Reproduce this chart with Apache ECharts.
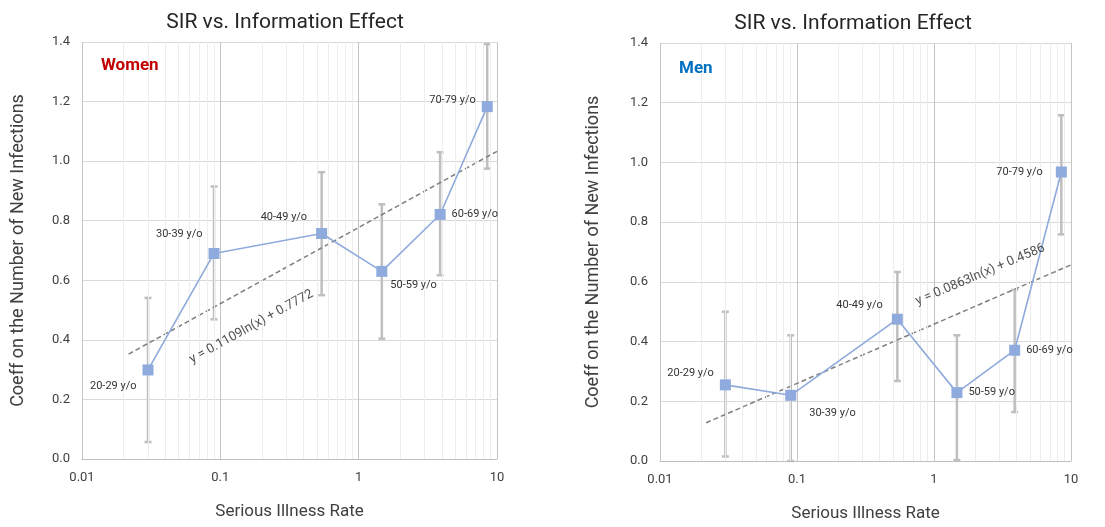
<!DOCTYPE html>
<html>
<head>
<meta charset="utf-8">
<script src="https://cdn.jsdelivr.net/npm/echarts@6/dist/echarts.min.js"></script>
<style>
  html, body { margin: 0; padding: 0; background: #fff; }
  #chart { width: 1105px; height: 527px; }
</style>
</head>
<body>
<div id="chart"></div>
<script>
// ---- Data ----
const ageLabels = ['20-29 y/o', '30-39 y/o', '40-49 y/o', '50-59 y/o', '60-69 y/o', '70-79 y/o'];
const sirX = [0.03, 0.09, 0.54, 1.47, 3.88, 8.5];

const womenCoef = [0.299, 0.690, 0.757, 0.630, 0.821, 1.183];
const womenLow  = [0.057, 0.469, 0.550, 0.404, 0.617, 0.975];
const womenHigh = [0.541, 0.915, 0.963, 0.855, 1.030, 1.393];

const menCoef = [0.255, 0.220, 0.475, 0.229, 0.371, 0.968];
const menLow  = [0.015, 0.000, 0.268, 0.003, 0.164, 0.759];
const menHigh = [0.500, 0.421, 0.633, 0.421, 0.573, 1.158];

// trendline endpoints (x, y) as drawn
const trendX = [0.0217, 10];
const womenTrendY = [0.352, 1.033];
const menTrendY = [0.128, 0.657];
const womenEq = 'y = 0.1109ln(x) + 0.7772';
const menEq = 'y = 0.0863ln(x) + 0.4586';

const minorX = [0.02,0.03,0.04,0.05,0.06,0.07,0.08,0.09,0.2,0.3,0.4,0.5,0.6,0.7,0.8,0.9,2,3,4,5,6,7,8,9];

// ---- Styling / layout ----
const FONT = 'Roboto, "Open Sans", sans-serif';
const TXT = '#404040';
const LINE = '#8FAADC';
const ERR = '#BFBFBF';

// label placements (position + offset) for each point
const womenLabelPos = [
  { position: 'left',  offset: [0, 16] },
  { position: 'left',  offset: [0, -19] },
  { position: 'left',  offset: [-3, -16] },
  { position: 'right', offset: [-3, 14] },
  { position: 'right', offset: [0, 0] },
  { position: 'left',  offset: [0, -6] }
];
const menLabelPos = [
  { position: 'left',  offset: [0, -12] },
  { position: 'right', offset: [7, 18] },
  { position: 'left',  offset: [-3, -14] },
  { position: 'right', offset: [0, 0] },
  { position: 'right', offset: [0, 0] },
  { position: 'left',  offset: [-7, 0] }
];

function fmtX(v) {
  if (v >= 1) return String(Math.round(v));
  return String(parseFloat(v.toPrecision(2)));
}

function makeAxes(i) {
  const xAxis = {
    type: 'log', logBase: 10, min: 0.01, max: 10, gridIndex: i,
    name: 'Serious Illness Rate', nameLocation: 'middle', nameGap: 44,
    nameTextStyle: { fontFamily: FONT, fontSize: 17, color: TXT },
    axisLine: { show: true, lineStyle: { color: '#BFBFBF', width: 1 } },
    axisTick: { show: false },
    axisLabel: { fontFamily: FONT, fontSize: 13, color: TXT, margin: 12, formatter: fmtX },
    splitLine: { show: true, lineStyle: { color: '#C4C4C4', width: 1 } },
    minorTick: { show: false }, minorSplitLine: { show: false }
  };
  const yAxis = {
    type: 'value', min: 0, max: 1.4, interval: 0.2, gridIndex: i,
    name: 'Coeff on the Number of New Infections', nameLocation: 'middle', nameGap: i === 0 ? 55 : 58,
    nameRotate: 90,
    nameTextStyle: { fontFamily: FONT, fontSize: 18, color: TXT },
    axisLine: { show: false }, axisTick: { show: false },
    axisLabel: { fontFamily: FONT, fontSize: 13, color: TXT, margin: 12, formatter: v => v.toFixed(1) },
    splitLine: { show: true, lineStyle: { color: '#D9D9D9', width: 1 } }
  };
  return { xAxis, yAxis };
}

function makeSeries(i, coef, low, high, trendY, labelPos, eq, eqPoint, eqRot) {
  const out = [];
  // minor vertical gridlines
  out.push({
    type: 'line', xAxisIndex: i, yAxisIndex: i, data: [], z: 1, silent: true,
    markLine: {
      silent: true, symbol: ['none', 'none'], animation: false,
      label: { show: false },
      lineStyle: { color: '#EDEDED', width: 1, type: 'solid' },
      data: minorX.map(v => ({ xAxis: v }))
    }
  });
  // error bars
  out.push({
    type: 'custom', xAxisIndex: i, yAxisIndex: i, z: 1, silent: true,
    data: sirX.map((x, k) => [x, low[k], high[k]]),
    encode: { x: 0, y: [1, 2] },
    renderItem: (params, api) => {
      const x = api.value(0);
      const pLo = api.coord([x, api.value(1)]);
      const pHi = api.coord([x, api.value(2)]);
      const cap = 3.5;
      const st = { stroke: ERR, lineWidth: 2.5 };
      return {
        type: 'group', children: [
          { type: 'line', shape: { x1: pLo[0], y1: pLo[1], x2: pHi[0], y2: pHi[1] }, style: st },
          { type: 'line', shape: { x1: pLo[0] - cap, y1: pLo[1], x2: pLo[0] + cap, y2: pLo[1] }, style: st },
          { type: 'line', shape: { x1: pHi[0] - cap, y1: pHi[1], x2: pHi[0] + cap, y2: pHi[1] }, style: st }
        ]
      };
    }
  });
  // trendline
  out.push({
    type: 'line', xAxisIndex: i, yAxisIndex: i, z: 3, silent: true,
    data: trendX.map((x, k) => [x, trendY[k]]),
    symbol: 'none',
    lineStyle: { color: '#7F7F7F', width: 1.5, type: [5, 3] }
  });
  // main series
  out.push({
    type: 'line', xAxisIndex: i, yAxisIndex: i, z: 10,
    data: sirX.map((x, k) => ({
      value: [x, coef[k]],
      label: {
        show: true, formatter: ageLabels[k],
        position: labelPos[k].position, offset: labelPos[k].offset, distance: 6
      }
    })),
    symbol: 'rect', symbolSize: 11, showAllSymbol: true,
    itemStyle: { color: LINE, opacity: 1 },
    lineStyle: { color: LINE, width: 1.6 },
    label: { fontFamily: FONT, fontSize: 11, color: '#333333' }
  });
  // trendline equation text
  out.push({
    type: 'scatter', xAxisIndex: i, yAxisIndex: i, z: 11, silent: true,
    data: [eqPoint], symbolSize: 0,
    label: {
      show: true, position: 'inside', formatter: eq, rotate: eqRot,
      fontFamily: FONT, fontSize: 13, color: '#262626'
    }
  });
  return out;
}

const a0 = makeAxes(0), a1 = makeAxes(1);

const option = {
  backgroundColor: '#ffffff',
  animation: false,
  title: [
    { text: 'SIR vs. Information Effect', left: 280, top: 7, textAlign: 'center',
      textStyle: { fontFamily: FONT, fontSize: 21, fontWeight: 'normal', color: '#262626' } },
    { text: 'SIR vs. Information Effect', left: 848, top: 8, textAlign: 'center',
      textStyle: { fontFamily: FONT, fontSize: 21, fontWeight: 'normal', color: '#262626' } },
    { text: 'Women', left: 96, top: 52,
      textStyle: { fontFamily: FONT, fontSize: 17, fontWeight: 'bold', color: '#C00000' } },
    { text: 'Men', left: 674, top: 55,
      textStyle: { fontFamily: FONT, fontSize: 17, fontWeight: 'bold', color: '#0070C0' } }
  ],
  grid: [
    { left: 82, top: 42, width: 415, height: 417 },
    { left: 660, top: 43, width: 411, height: 418 }
  ],
  xAxis: [a0.xAxis, a1.xAxis],
  yAxis: [a0.yAxis, a1.yAxis],
  series: [
    ...makeSeries(0, womenCoef, womenLow, womenHigh, womenTrendY, womenLabelPos, womenEq, [0.1675, 0.444], 29),
    ...makeSeries(1, menCoef, menLow, menHigh, menTrendY, menLabelPos, menEq, [2.175, 0.624], 23)
  ]
};

const chart = echarts.init(document.getElementById('chart'), null, { renderer: 'canvas' });
chart.setOption(option);
</script>
</body>
</html>
